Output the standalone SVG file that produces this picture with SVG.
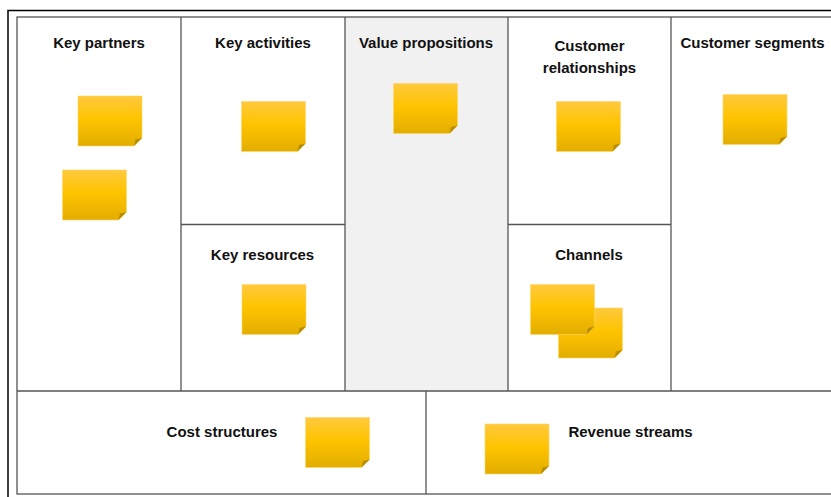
<svg xmlns="http://www.w3.org/2000/svg" xmlns:xlink="http://www.w3.org/1999/xlink" width="831" height="497" viewBox="0 0 831 497">
<style>
.grid{fill:none;stroke:#555;stroke-width:1.3}
.lbl{font-family:"Liberation Sans",Arial,sans-serif;font-weight:bold;font-size:15px;fill:#111;text-anchor:middle}
</style>
<defs>
<linearGradient id="ng" x1="0" y1="0" x2="0" y2="1">
<stop offset="0" stop-color="#FFC93E"/>
<stop offset="0.45" stop-color="#FFC400"/>
<stop offset="1" stop-color="#E2AD00"/>
</linearGradient>
<g id="note">
<path d="M0,0 H64 V42 L56,50 H0 Z" fill="url(#ng)" stroke="#FFD766" stroke-width="0.6"/>
<path d="M56,50 L64,42 L57.5,43.5 Z" fill="#B88C00"/>
</g>
</defs>
<rect x="0" y="0" width="831" height="497" fill="#fff"/>
<rect x="8" y="10.5" width="840" height="500" fill="none" stroke="#000" stroke-width="1.5"/>
<rect x="345" y="17" width="163" height="374" fill="#F1F1F1"/>
<g id="grid">
<rect class="grid" x="17" y="17" width="830" height="477"/>
<line class="grid" x1="181" y1="17" x2="181" y2="391"/>
<line class="grid" x1="345" y1="17" x2="345" y2="391"/>
<line class="grid" x1="508" y1="17" x2="508" y2="391"/>
<line class="grid" x1="671" y1="17" x2="671" y2="391"/>
<line class="grid" x1="181" y1="224.5" x2="345" y2="224.5"/>
<line class="grid" x1="508" y1="224.5" x2="671" y2="224.5"/>
<line class="grid" x1="17" y1="391" x2="847" y2="391"/>
<line class="grid" x1="426" y1="391" x2="426" y2="494"/>
</g>
<g id="key-partners">
<text class="lbl" x="99" y="48">Key partners</text>
<use xlink:href="#note" x="78" y="96"/>
<use xlink:href="#note" x="62.5" y="170"/>
</g>
<g id="key-activities">
<text class="lbl" x="263" y="48">Key activities</text>
<use xlink:href="#note" x="241.5" y="101.5"/>
</g>
<g id="key-resources">
<text class="lbl" x="262.5" y="260">Key resources</text>
<use xlink:href="#note" x="242" y="284.5"/>
</g>
<g id="value-propositions">
<text class="lbl" x="426" y="48">Value propositions</text>
<use xlink:href="#note" x="393.5" y="83.5"/>
</g>
<g id="customer-relationships">
<text class="lbl" x="589.5" y="51">Customer</text>
<text class="lbl" x="589.5" y="73">relationships</text>
<use xlink:href="#note" x="556.5" y="101.5"/>
</g>
<g id="channels">
<text class="lbl" x="589" y="260">Channels</text>
<use xlink:href="#note" x="558.5" y="308"/>
<use xlink:href="#note" x="530.5" y="284.5"/>
</g>
<g id="customer-segments">
<text class="lbl" x="752.5" y="48">Customer segments</text>
<use xlink:href="#note" x="723" y="94.5"/>
</g>
<g id="cost-structures">
<text class="lbl" x="222" y="437">Cost structures</text>
<use xlink:href="#note" x="305.5" y="417.5"/>
</g>
<g id="revenue-streams">
<text class="lbl" x="630.5" y="437">Revenue streams</text>
<use xlink:href="#note" x="485" y="424"/>
</g>
<g id="connectors"/>
</svg>
